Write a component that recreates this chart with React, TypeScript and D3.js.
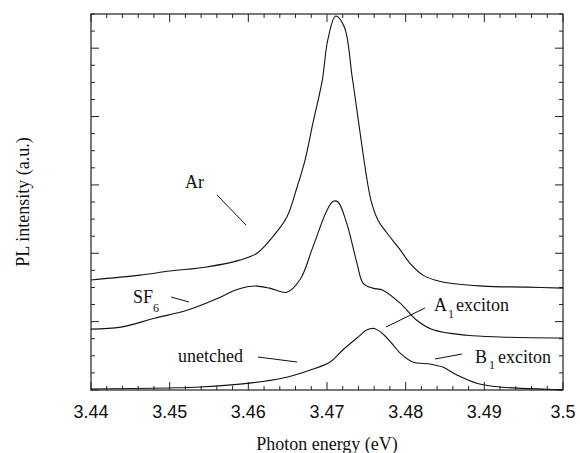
import * as d3 from "d3";

// Data (photon energy in eV, PL intensity in arbitrary units)
const arEnergy = [
  3.44, 3.4462, 3.45, 3.4547, 3.4589, 3.4611, 3.4631, 3.4649, 3.4662, 3.4672,
  3.4682, 3.4694, 3.4701, 3.4711, 3.4722, 3.4732, 3.4741, 3.475, 3.4756,
  3.4765, 3.4776, 3.4793, 3.4805, 3.4822, 3.4847, 3.4898, 3.4954, 3.5
];
const arIntensity = [
  1.61, 1.68, 1.74, 1.8, 1.9, 2.0, 2.24, 2.53, 2.97, 3.36,
  3.9, 4.53, 5.12, 5.47, 5.31, 4.58, 3.85, 3.14, 2.77,
  2.48, 2.3, 2.05, 1.86, 1.68, 1.58, 1.52, 1.505, 1.49
];

const sf6Energy = [
  3.44, 3.4438, 3.4481, 3.4523, 3.4565, 3.4583, 3.4599, 3.4611, 3.4627, 3.4649,
  3.4666, 3.4682, 3.47, 3.4708, 3.4714, 3.4725, 3.4738, 3.4746, 3.4758, 3.4771,
  3.4793, 3.4814, 3.4835, 3.4878, 3.492, 3.5
];
const sf6Intensity = [
  0.89, 0.92, 1.05, 1.17, 1.36, 1.46, 1.51, 1.52, 1.49, 1.43,
  1.62, 2.09, 2.63, 2.76, 2.75, 2.44, 1.86, 1.56, 1.49, 1.46,
  1.27, 1.02, 0.88, 0.8, 0.775, 0.76
];

const unetchedEnergy = [
  3.44, 3.45, 3.4539, 3.4602, 3.4644, 3.4678, 3.4704, 3.472, 3.4738, 3.4751,
  3.476, 3.477, 3.4784, 3.4793, 3.4809, 3.4831, 3.4847, 3.4865, 3.489, 3.492,
  3.4979, 3.5
];
const unetchedIntensity = [
  0.015, 0.03, 0.044, 0.1, 0.175, 0.29, 0.41, 0.585, 0.76, 0.88,
  0.9, 0.83, 0.66, 0.54, 0.41, 0.38, 0.335, 0.22, 0.1, 0.044,
  0.012, 0.005
];

const xTickLabels = ["3.44", "3.45", "3.46", "3.47", "3.48", "3.49", "3.5"];

const W = 580;
const H = 453;
const margin = { top: 14, right: 17, bottom: 63, left: 91 };
const serif = "Liberation Serif, Tinos, DejaVu Serif, serif";
const sans = "Liberation Sans, Arimo, Arial, sans-serif";

export default function App() {
  const innerW = W - margin.left - margin.right;
  const innerH = H - margin.top - margin.bottom;

  const x = d3.scaleLinear().domain([3.44, 3.5]).range([margin.left, margin.left + innerW]);
  const y = d3.scaleLinear().domain([0, 5.5]).range([margin.top + innerH, margin.top]);

  const line = d3
    .line<[number, number]>()
    .x((d) => x(d[0]))
    .y((d) => y(d[1]))
    .curve(d3.curveCatmullRom.alpha(0.5));

  const series = [
    arEnergy.map((e, i) => [e, arIntensity[i]] as [number, number]),
    sf6Energy.map((e, i) => [e, sf6Intensity[i]] as [number, number]),
    unetchedEnergy.map((e, i) => [e, unetchedIntensity[i]] as [number, number]),
  ];

  const xMinor = d3.range(0, 31).map((i) => 3.44 + i * 0.002);
  const yMinor = d3.range(0, 23).map((i) => i * 0.25);
  const x0 = margin.left;
  const x1 = margin.left + innerW;
  const y0 = margin.top + innerH;
  const y1 = margin.top;
  const stroke = "#222";

  return (
    <svg width={W} height={H} style={{ position: "absolute", left: 0, top: 0, background: "#fff" }}>
      {/* frame */}
      <rect x={x0} y={y1} width={innerW} height={innerH} fill="none" stroke={stroke} strokeWidth={1.2} />

      {/* x ticks, bottom and top, pointing in */}
      {xMinor.map((v, i) => {
        const len = i % 5 === 0 ? 8 : 4;
        return (
          <g key={"xt" + i}>
            <line x1={x(v)} x2={x(v)} y1={y0} y2={y0 - len} stroke={stroke} />
            <line x1={x(v)} x2={x(v)} y1={y1} y2={y1 + len} stroke={stroke} />
          </g>
        );
      })}

      {/* y ticks, left and right */}
      {yMinor.map((v, i) => {
        const len = i % 4 === 0 ? 8 : 4;
        return (
          <g key={"yt" + i}>
            <line x1={x0} x2={x0 + len} y1={y(v)} y2={y(v)} stroke={stroke} />
            <line x1={x1} x2={x1 - len} y1={y(v)} y2={y(v)} stroke={stroke} />
          </g>
        );
      })}

      {xTickLabels.map((t) => (
        <text key={t} x={x(+t)} y={418} textAnchor="middle" style={{ fontFamily: sans, fontSize: 18 }} fill="#111">
          {t}
        </text>
      ))}

      <text x={(x0 + x1) / 2} y={450} textAnchor="middle" style={{ fontFamily: serif, fontSize: 18 }} fill="#111">
        Photon energy (eV)
      </text>
      <text
        transform={`translate(29,${(y0 + y1) / 2}) rotate(-90)`}
        textAnchor="middle"
        style={{ fontFamily: serif, fontSize: 18 }}
        fill="#111"
      >
        PL intensity (a.u.)
      </text>

      {series.map((s, i) => (
        <path key={"s" + i} d={line(s) ?? ""} fill="none" stroke="#111" strokeWidth={1.1} />
      ))}

      {/* annotations */}
      <g style={{ fontFamily: serif, fontSize: 18 }} fill="#111">
        <text x={185} y={188}>Ar</text>
        <text x={133} y={303}>SF</text>
        <text x={153} y={312} style={{ fontSize: 12 }}>6</text>
        <text x={178} y={362}>unetched</text>
        <text x={434} y={311}>A</text>
        <text x={448} y={318} style={{ fontSize: 12 }}>1</text>
        <text x={456} y={311}>exciton</text>
        <text x={475} y={363}>B</text>
        <text x={489} y={369} style={{ fontSize: 12 }}>1</text>
        <text x={498} y={363}>exciton</text>
      </g>
      <g stroke="#111" strokeWidth={1}>
        <line x1={217} y1={195} x2={246} y2={225} />
        <line x1={171} y1={297} x2={189} y2={302} />
        <line x1={258} y1={357} x2={297} y2={362} />
        <line x1={386} y1={327} x2={425} y2={308} />
        <line x1={435} y1={359} x2={462} y2={354} />
      </g>
    </svg>
  );
}
